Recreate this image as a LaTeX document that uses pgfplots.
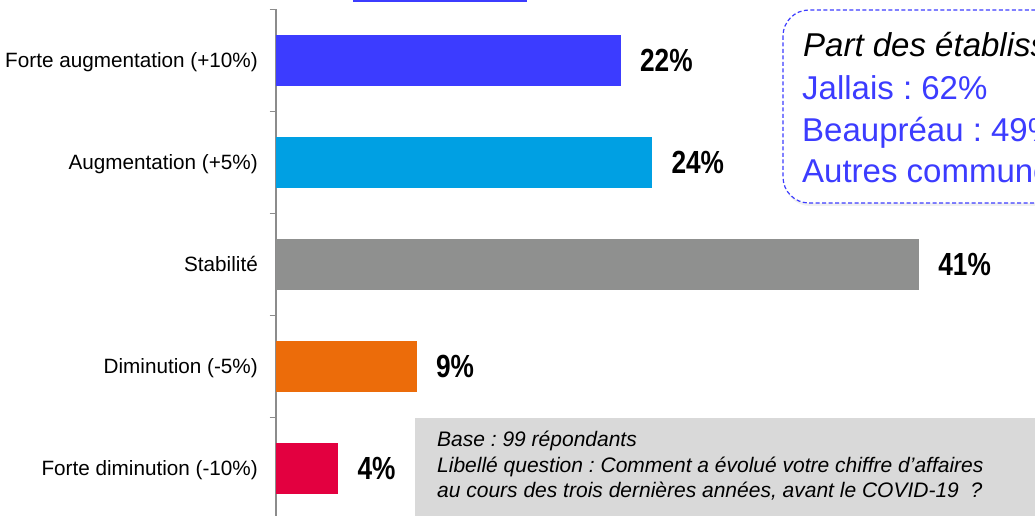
\documentclass[border=0pt]{standalone}
\usepackage{pgfplots}
\pgfplotsset{compat=1.18}
\usepackage{fontspec}
\setmainfont{Liberation Sans}
\newfontfamily\valfont[FakeStretch=0.82]{Liberation Sans}
\usetikzlibrary{shadows}
\frenchspacing

\definecolor{barblue}{RGB}{60,60,255}
\definecolor{barcyan}{RGB}{0,160,227}
\definecolor{bargray}{RGB}{143,144,143}
\definecolor{barorange}{RGB}{236,108,10}
\definecolor{barred}{RGB}{227,0,64}
\definecolor{axisgray}{RGB}{140,140,140}
\definecolor{notegray}{RGB}{217,217,217}

% px from top -> pt from bottom
\newcommand{\Y}[1]{\fpeval{516-#1}pt}

\begin{document}
\begin{tikzpicture}
\path[use as bounding box] (0,0) rectangle (1035pt,516pt);

\begin{axis}[
  at={(275.5pt,-3.5pt)}, anchor=south west,
  scale only axis, width=753.6pt, height=510pt,
  xmin=0, xmax=48, ymin=-0.5, ymax=4.5,
  axis x line=none, axis y line*=left,
  axis line style={draw=axisgray, line width=2pt},
  xtick=\empty,
  ytick={0,1,2,3,4},
  yticklabels={Forte diminution (-10\%), Diminution (-5\%), Stabilité,
               Augmentation (+5\%), Forte augmentation (+10\%)},
  major tick length=0pt,
  minor ytick={-0.5,0.5,1.5,2.5,3.5,4.5},
  minor tick length=6pt, tick align=outside,
  minor y tick style={draw=axisgray, line width=1.4pt},
  yticklabel style={font=\fontsize{20.7}{24}\selectfont, anchor=base east,
                    inner sep=0pt, xshift=-17.5pt, yshift=-7.5pt},
  xbar, bar width=51pt,
  point meta=explicit symbolic,
  nodes near coords={\pgfplotspointmeta\%},
  every node near coord/.append style={
    font=\valfont\bfseries\fontsize{32}{36}\selectfont, text=black,
    anchor=base west, inner sep=0pt, xshift=19pt, yshift=-11.5pt},
  clip=false,
]
\addplot[fill=barblue, draw=none, bar shift=0pt] coordinates {(22,4) [22]};
\addplot[fill=barcyan, draw=none, bar shift=0pt] coordinates {(24,3) [24]};
\addplot[fill=bargray, draw=none, bar shift=0pt] coordinates {(41,2) [41]};
\addplot[fill=barorange, draw=none, bar shift=0pt] coordinates {(9,1) [9]};
\addplot[fill=barred, draw=none, bar shift=0pt] coordinates {(4,0) [4]};
\end{axis}

% title strip cut at the top
\fill[barblue] (353pt,516pt) rectangle (527pt,513.5pt);

% right box
\draw[barblue, line width=1.2pt, dash pattern=on 4pt off 2.5pt,
      rounded corners=26pt, fill=white,
      drop shadow={shadow xshift=1pt, shadow yshift=-3pt, opacity=0.12}]
  (783pt,\Y{10}) rectangle (1110pt,\Y{203});
\node[anchor=base west, inner sep=0pt, font=\itshape\fontsize{33}{38}\selectfont]
  at (803pt,\Y{57}) {Part des établissements};
\node[anchor=base west, inner sep=0pt, text=barblue, font=\fontsize{33}{38}\selectfont]
  at (802pt,\Y{100}) {Jallais : 62\%};
\node[anchor=base west, inner sep=0pt, text=barblue, font=\fontsize{33}{38}\selectfont]
  at (802pt,\Y{142}) {Beaupréau : 49\%};
\node[anchor=base west, inner sep=0pt, text=barblue, font=\fontsize{33}{38}\selectfont]
  at (802pt,\Y{183}) {Autres communes};

% note box
\fill[notegray] (415pt,\Y{418}) rectangle (1110pt,-10pt);
\node[anchor=base west, inner sep=0pt, font=\itshape\fontsize{21}{24}\selectfont]
  at (437pt,\Y{447}) {Base : 99 répondants};
\node[anchor=base west, inner sep=0pt, font=\itshape\fontsize{21}{24}\selectfont]
  at (437pt,\Y{473}) {Libellé question : Comment a évolué votre chiffre d’affaires};
\node[anchor=base west, inner sep=0pt, font=\itshape\fontsize{21}{24}\selectfont]
  at (437pt,\Y{498}) {au cours des trois dernières années, avant le COVID-19~ ?};
\end{tikzpicture}
\end{document}
